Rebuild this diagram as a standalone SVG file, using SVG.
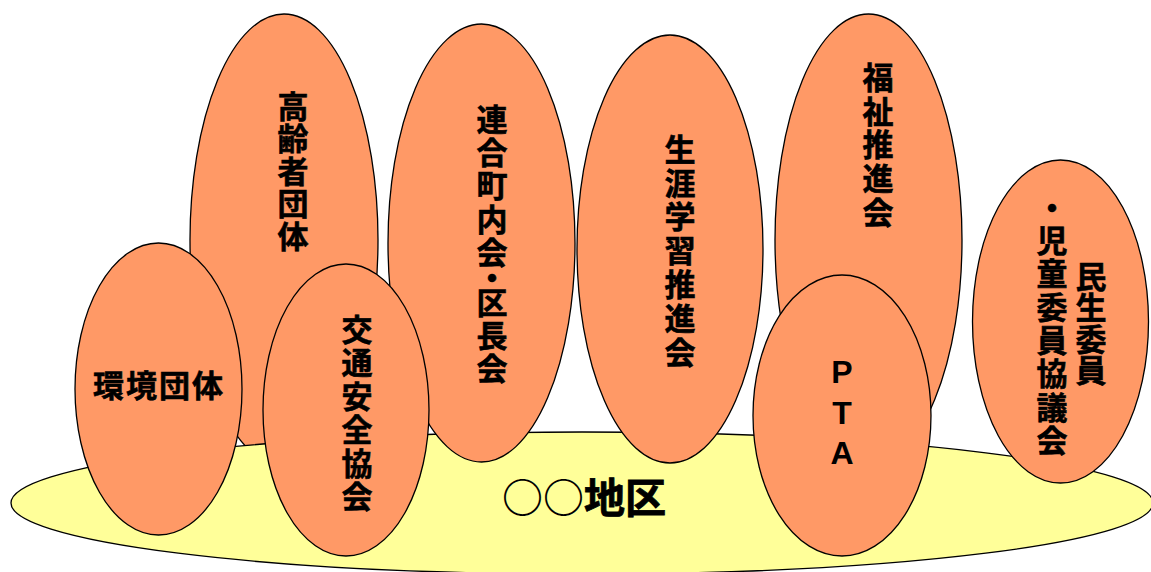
<svg xmlns="http://www.w3.org/2000/svg" width="1151" height="572" viewBox="0 0 1151 572">
<style>
.o{fill:#FF9966;stroke:#000;stroke-width:1.3}
.y{fill:#FFFF99;stroke:#000;stroke-width:1.3}
.t{font-family:"Noto Sans CJK JP","Noto Sans CJK SC",sans-serif;font-weight:bold;font-size:31px;fill:#000;stroke:#000;stroke-width:0.6}
.v{writing-mode:vertical-rl}
.l{font-family:"Liberation Sans",Arial,sans-serif;font-weight:bold;font-size:32px;fill:#000;text-anchor:middle}
.b{font-family:"Noto Sans CJK JP","Noto Sans CJK SC",sans-serif;font-weight:bold;font-size:41px;fill:#000}
</style>
<rect width="1151" height="572" fill="#fff"/>
<g id="koreisha">
<ellipse class="o" cx="284" cy="240" rx="94" ry="226"/>
<text class="t v" x="293" y="90.5" letter-spacing="1.5">高齢者団体</text>
</g>
<g id="fukushi">
<ellipse class="o" cx="868.5" cy="240" rx="93.5" ry="226"/>
<text class="t v" x="878" y="61.5" letter-spacing="2.8">福祉推進会</text>
</g>
<g id="chiku">
<ellipse class="y" cx="582" cy="503" rx="571" ry="71"/>
<text class="b" x="502" y="513"><tspan>○○</tspan><tspan stroke="#000" stroke-width="0.8">地区</tspan></text>
</g>
<g id="rengo">
<ellipse class="o" cx="481.5" cy="243" rx="93.5" ry="219"/>
<text class="t v" x="492" y="103.5" letter-spacing="2.3">連合町内会<tspan dy="-9">・</tspan><tspan dy="-8">区長会</tspan></text>
</g>
<g id="shogai">
<ellipse class="o" cx="670" cy="249" rx="93" ry="214"/>
<text class="t v" x="680" y="133.5" letter-spacing="2.8">生涯学習推進会</text>
</g>
<g id="kankyo">
<ellipse class="o" cx="158.5" cy="389" rx="83.5" ry="146"/>
<text class="t" x="159" y="397" letter-spacing="2" text-anchor="middle">環境団体</text>
</g>
<g id="kotsu">
<ellipse class="o" cx="346" cy="410" rx="83" ry="146"/>
<text class="t v" x="357" y="313.5" letter-spacing="2.5">交通安全協会</text>
</g>
<g id="pta">
<ellipse class="o" cx="842" cy="415.5" rx="89" ry="140.5"/>
<text class="l"><tspan x="842" y="383">P</tspan><tspan x="842" y="424">T</tspan><tspan x="842" y="464">A</tspan></text>
</g>
<g id="minsei">
<ellipse class="o" cx="1060.5" cy="321.5" rx="88" ry="161.5"/>
<text class="t v" x="1091" y="260.5" letter-spacing="0.5">民生委員</text>
<text class="t v" x="1052" y="191.5" letter-spacing="2.3">・児童委員協議会</text>
</g>
<g id="connectors"/>
</svg>
